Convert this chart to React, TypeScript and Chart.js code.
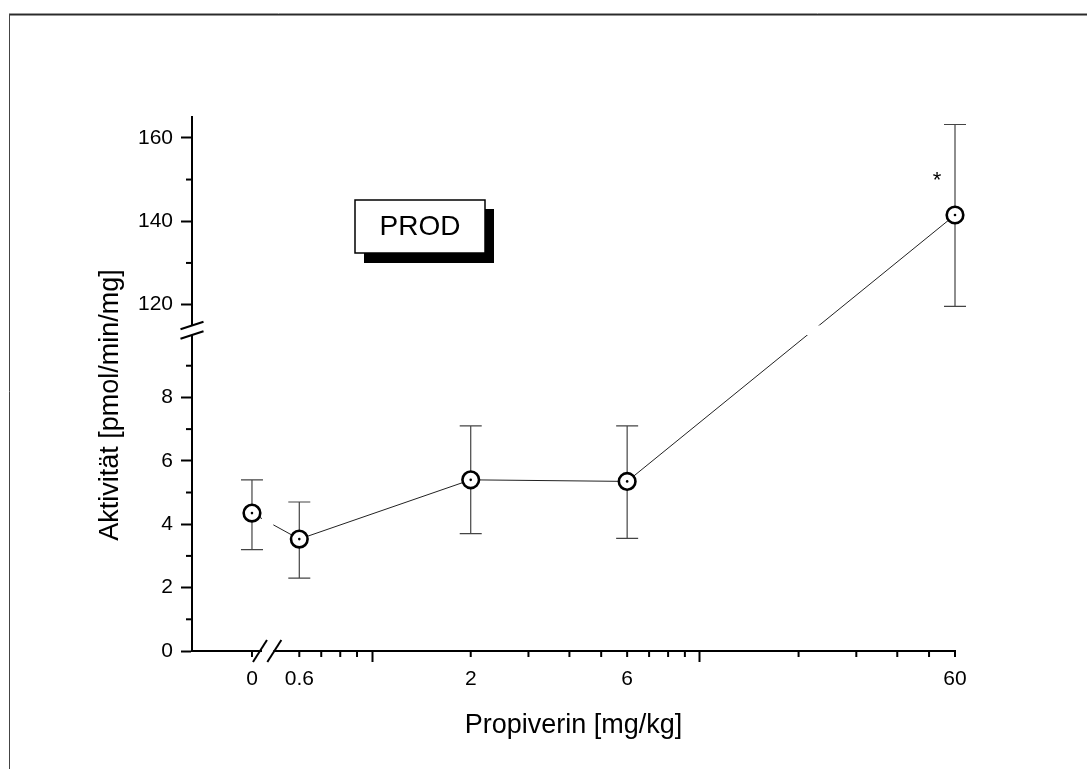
import React, { useEffect, useRef } from 'react';
import { Chart, LineController, LineElement, PointElement, LinearScale } from 'chart.js';

// Propiverin dose groups (mg/kg) and PROD activity (pmol/min/mg): mean with error limits
const DOSES = [0, 0.6, 2, 6, 60];
const MEANS = [4.35, 3.53, 5.4, 5.35, 141.5];
const UPPER = [5.4, 4.7, 7.1, 7.1, 163.2];
const LOWER = [3.2, 2.3, 3.7, 3.55, 119.6];
const SIGNIFICANT = [false, false, false, false, true];
const SIG_MARK_Y = [0, 0, 0, 0, 149.7];

// Axis ticks
const X_TICKS = [0, 0.6, 0.7, 0.8, 0.9, 1, 2, 3, 4, 5, 6, 7, 8, 9, 10, 20, 30, 40, 50, 60];
const X_LABELS = [0, 0.6, 2, 6, 60];
const X_LONG_TICKS = [1, 10];
const Y_TICKS = [0, 1, 2, 3, 4, 5, 6, 7, 8, 9, 120, 130, 140, 150, 160];
const Y_LABELS = [0, 2, 4, 6, 8, 120, 140, 160];

// Broken axis ranges
const Y_LOW = [0, 10];
const Y_HIGH = [115, 165];
const X_LOG = [0.5, 60];

// Share of the axis length taken by each part of the broken axes
const Y_LOW_SHARE = 0.5936;
const Y_HIGH_SHARE = 0.3904;
const X_ZERO_SHARE = 0.0786;
const X_LOG_START_SHARE = 0.1066;

const FONT = "'Liberation Sans', Arial, Helvetica, sans-serif";

function yShare(v: number): number {
  const gapStart = Y_LOW_SHARE;
  const gapEnd = 1 - Y_HIGH_SHARE;
  if (v <= Y_LOW[1]) return ((v - Y_LOW[0]) / (Y_LOW[1] - Y_LOW[0])) * Y_LOW_SHARE;
  if (v >= Y_HIGH[0]) return gapEnd + ((v - Y_HIGH[0]) / (Y_HIGH[1] - Y_HIGH[0])) * Y_HIGH_SHARE;
  return gapStart + ((v - Y_LOW[1]) / (Y_HIGH[0] - Y_LOW[1])) * (gapEnd - gapStart);
}

function yFromShare(s: number): number {
  const gapStart = Y_LOW_SHARE;
  const gapEnd = 1 - Y_HIGH_SHARE;
  if (s <= gapStart) return Y_LOW[0] + (s / Y_LOW_SHARE) * (Y_LOW[1] - Y_LOW[0]);
  if (s >= gapEnd) return Y_HIGH[0] + ((s - gapEnd) / Y_HIGH_SHARE) * (Y_HIGH[1] - Y_HIGH[0]);
  return Y_LOW[1] + ((s - gapStart) / (gapEnd - gapStart)) * (Y_HIGH[0] - Y_LOW[1]);
}

const LOG_SPAN = Math.log10(X_LOG[1]) - Math.log10(X_LOG[0]);

function xShare(v: number): number {
  if (v >= X_LOG[0]) {
    return X_LOG_START_SHARE + ((Math.log10(v) - Math.log10(X_LOG[0])) / LOG_SPAN) * (1 - X_LOG_START_SHARE);
  }
  return X_ZERO_SHARE + (v / X_LOG[0]) * (X_LOG_START_SHARE - X_ZERO_SHARE);
}

function xFromShare(s: number): number {
  if (s >= X_LOG_START_SHARE) {
    return Math.pow(10, Math.log10(X_LOG[0]) + ((s - X_LOG_START_SHARE) / (1 - X_LOG_START_SHARE)) * LOG_SPAN);
  }
  return ((s - X_ZERO_SHARE) / (X_LOG_START_SHARE - X_ZERO_SHARE)) * X_LOG[0];
}

// Linear axis 0–10 with a break up to 115–165
class BrokenYScale extends LinearScale {
  static id = 'brokenY';
  static defaults = LinearScale.defaults;
  buildTicks() {
    return Y_TICKS.map((value) => ({ value, major: Y_LABELS.includes(value) }));
  }
  getPixelForValue(value: any) {
    if (value === null || value === undefined || isNaN(value)) return NaN;
    return this.getPixelForDecimal(yShare(value));
  }
  getValueForPixel(pixel: number) {
    return yFromShare(this.getDecimalForPixel(pixel));
  }
}

// Control group at 0, then a break, then a logarithmic dose axis
class BrokenXScale extends LinearScale {
  static id = 'brokenX';
  static defaults = LinearScale.defaults;
  buildTicks() {
    return X_TICKS.map((value) => ({ value, major: X_LONG_TICKS.includes(value) }));
  }
  getPixelForValue(value: any) {
    if (value === null || value === undefined || isNaN(value)) return NaN;
    return this.getPixelForDecimal(xShare(value));
  }
  getValueForPixel(pixel: number) {
    return xFromShare(this.getDecimalForPixel(pixel));
  }
}

Chart.register(LineController, LineElement, PointElement, LinearScale, BrokenYScale, BrokenXScale);

const points = DOSES.map((x, i) => ({ x, y: MEANS[i] }));

const framePlugin = {
  id: 'frame',
  beforeDraw(chart: any) {
    const { ctx, width, height } = chart;
    ctx.save();
    ctx.fillStyle = '#fff';
    ctx.fillRect(0, 0, width, height);
    ctx.strokeStyle = '#9a9a9a';
    ctx.lineWidth = 1;
    ctx.beginPath();
    ctx.moveTo(9, 13.5);
    ctx.lineTo(width, 13.5);
    ctx.stroke();
    ctx.strokeStyle = '#2a2a2a';
    ctx.lineWidth = 1.5;
    ctx.beginPath();
    ctx.moveTo(9, 14.75);
    ctx.lineTo(width, 14.75);
    ctx.stroke();
    ctx.strokeStyle = '#444';
    ctx.lineWidth = 1;
    ctx.beginPath();
    ctx.moveTo(9.5, 14);
    ctx.lineTo(9.5, height);
    ctx.stroke();
    ctx.restore();
  },
};

const breaksAndErrorBars = {
  id: 'breaksAndErrorBars',
  afterDatasetDraw(chart: any, args: any) {
    if (args.index !== 0) return;
    const { ctx, chartArea } = chart;
    const xs = chart.scales.x;
    const ys = chart.scales.y;
    ctx.save();
    // open the gaps of the broken axes (axis lines and connecting line)
    ctx.fillStyle = '#fff';
    const yTop = ys.getPixelForValue(Y_HIGH[0]);
    const yBot = ys.getPixelForValue(Y_LOW[1]) + 1;
    ctx.fillRect(chartArea.left - 12, yTop, chartArea.right - chartArea.left + 12, yBot - yTop);
    const xL = xs.getPixelForValue(0) + 10;
    const xR = xs.getPixelForValue(X_LOG[0]);
    ctx.fillRect(xL, chartArea.top, xR - xL, chartArea.bottom - chartArea.top + 3);

    // error bars
    ctx.strokeStyle = '#444';
    ctx.lineWidth = 1.2;
    DOSES.forEach((d, i) => {
      const px = xs.getPixelForValue(d);
      const pTop = ys.getPixelForValue(UPPER[i]);
      const pBot = ys.getPixelForValue(LOWER[i]);
      ctx.beginPath();
      ctx.moveTo(px, pTop);
      ctx.lineTo(px, pBot);
      ctx.moveTo(px - 11, pTop);
      ctx.lineTo(px + 11, pTop);
      ctx.moveTo(px - 11, pBot);
      ctx.lineTo(px + 11, pBot);
      ctx.stroke();
    });
    ctx.restore();
  },
  afterDraw(chart: any) {
    const { ctx, chartArea } = chart;
    const xs = chart.scales.x;
    const ys = chart.scales.y;
    ctx.save();
    ctx.strokeStyle = '#000';
    ctx.lineWidth = 2;

    // short tick marks
    ys.ticks.forEach((t: any) => {
      if (t.major) return;
      const p = ys.getPixelForValue(t.value);
      ctx.beginPath();
      ctx.moveTo(chartArea.left - 6, p);
      ctx.lineTo(chartArea.left, p);
      ctx.stroke();
    });
    xs.ticks.forEach((t: any) => {
      if (t.major) return;
      const p = xs.getPixelForValue(t.value);
      ctx.beginPath();
      ctx.moveTo(p, chartArea.bottom);
      ctx.lineTo(p, chartArea.bottom + 6);
      ctx.stroke();
    });

    // break marks on the y axis
    const yTop = ys.getPixelForValue(Y_HIGH[0]);
    const yBot = ys.getPixelForValue(Y_LOW[1]) + 1;
    [yTop, yBot].forEach((cy) => {
      ctx.beginPath();
      ctx.moveTo(chartArea.left - 11.5, cy + 3.75);
      ctx.lineTo(chartArea.left + 11.5, cy - 3.75);
      ctx.stroke();
    });
    // break marks on the x axis
    const bx1 = xs.getPixelForValue(0) + 8;
    const bx2 = xs.getPixelForValue(X_LOG[0]) + 1;
    [bx1, bx2].forEach((cx) => {
      ctx.beginPath();
      ctx.moveTo(cx - 7, chartArea.bottom + 11);
      ctx.lineTo(cx + 7, chartArea.bottom - 11);
      ctx.stroke();
    });

    // significance marks
    ctx.fillStyle = '#000';
    ctx.font = `22px ${FONT}`;
    ctx.textAlign = 'center';
    ctx.textBaseline = 'middle';
    DOSES.forEach((d, i) => {
      if (!SIGNIFICANT[i]) return;
      ctx.fillText('*', xs.getPixelForValue(d) - 18, ys.getPixelForValue(SIG_MARK_Y[i]));
    });

    // enzyme label box with drop shadow
    const bx = chartArea.left + 163;
    const by = chartArea.top + 83;
    const bw = 130;
    const bh = 53;
    ctx.fillStyle = '#000';
    ctx.fillRect(bx + 9, by + 9, bw, bh + 1);
    ctx.fillStyle = '#fff';
    ctx.fillRect(bx, by, bw, bh);
    ctx.strokeStyle = '#000';
    ctx.lineWidth = 1.5;
    ctx.strokeRect(bx, by, bw, bh);
    ctx.fillStyle = '#000';
    ctx.font = `28px ${FONT}`;
    ctx.textAlign = 'center';
    ctx.textBaseline = 'middle';
    ctx.fillText('PROD', bx + bw / 2, by + bh / 2 + 1);

    // y axis title
    ctx.translate(chartArea.left - 74, (chartArea.top + chartArea.bottom) / 2 + 21);
    ctx.rotate(-Math.PI / 2);
    ctx.font = `27px ${FONT}`;
    ctx.textAlign = 'center';
    ctx.textBaseline = 'alphabetic';
    ctx.fillText('Aktivität [pmol/min/mg]', 0, 0);
    ctx.restore();
  },
};

export default function App() {
  const ref = useRef<HTMLCanvasElement>(null);

  useEffect(() => {
    const canvas = ref.current;
    if (!canvas) return;
    Chart.defaults.font.family = FONT;
    const chart = new Chart(canvas, {
      type: 'line',
      data: {
        datasets: [
          {
            data: points,
            borderColor: '#222',
            borderWidth: 1,
            pointRadius: 0,
            tension: 0,
            fill: false,
            clip: false,
            order: 3,
          },
          {
            data: points,
            showLine: false,
            pointStyle: 'circle',
            pointRadius: 8.3,
            pointBorderWidth: 2.6,
            pointBorderColor: '#000',
            pointBackgroundColor: '#fff',
            clip: false,
            order: 2,
          },
          {
            data: points,
            showLine: false,
            pointStyle: 'circle',
            pointRadius: 1.3,
            pointBorderWidth: 0,
            pointBackgroundColor: '#000',
            clip: false,
            order: 1,
          },
        ],
      } as any,
      options: {
        responsive: false,
        animation: false,
        events: [],
        layout: { padding: { left: 0, right: 132, top: 117, bottom: 0 } },
        plugins: { legend: { display: false }, tooltip: { enabled: false } } as any,
        scales: {
          x: {
            type: 'brokenX',
            position: 'bottom',
            min: 0,
            max: 60,
            afterFit: (s: any) => {
              s.height = 118;
            },
            border: { display: true, color: '#000', width: 2 },
            grid: {
              display: true,
              drawOnChartArea: false,
              drawTicks: true,
              tickLength: 11,
              tickWidth: 2,
              tickColor: (c: any) => (c.tick && c.tick.major ? '#000' : 'rgba(0,0,0,0)'),
            },
            ticks: {
              autoSkip: false,
              maxRotation: 0,
              padding: 5,
              color: '#000',
              font: { size: 21, family: FONT },
              callback: (v: any) => (X_LABELS.includes(v) ? String(v) : ''),
            },
            title: {
              display: true,
              text: 'Propiverin [mg/kg]',
              color: '#000',
              font: { size: 27, family: FONT },
              padding: { top: 0, bottom: 27 },
            },
          },
          y: {
            type: 'brokenY',
            position: 'left',
            min: 0,
            max: 165,
            afterFit: (s: any) => {
              s.width = 192;
            },
            border: { display: true, color: '#000', width: 2 },
            grid: {
              display: true,
              drawOnChartArea: false,
              drawTicks: true,
              tickLength: 11,
              tickWidth: 2,
              tickColor: (c: any) => (c.tick && c.tick.major ? '#000' : 'rgba(0,0,0,0)'),
            },
            ticks: {
              autoSkip: false,
              padding: 8,
              color: '#000',
              font: { size: 21, family: FONT },
              callback: (v: any) => (Y_LABELS.includes(v) ? String(v) : ''),
            },
          },
        } as any,
      },
      plugins: [framePlugin, breaksAndErrorBars],
    });
    return () => chart.destroy();
  }, []);

  return (
    <div style={{ position: 'absolute', left: 0, top: 0, width: 1087, height: 769, background: '#fff' }}>
      <canvas ref={ref} width={1087} height={769} style={{ display: 'block', width: 1087, height: 769 }} />
    </div>
  );
}
